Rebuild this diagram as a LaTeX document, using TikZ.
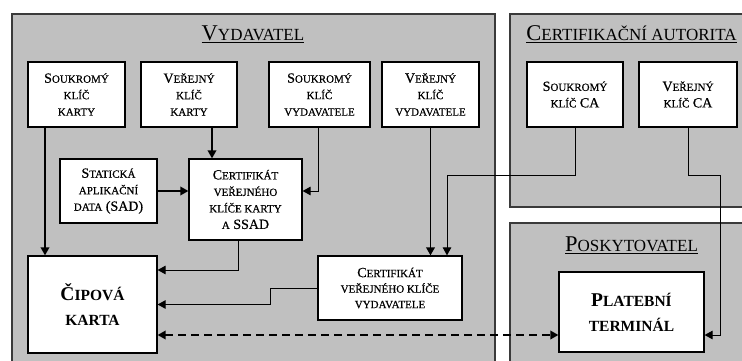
\documentclass[tikz,border=0pt]{standalone}
\usepackage{fontspec}
\setmainfont{Liberation Serif}
\newfontfamily\boxfont{Liberation Serif}[FakeBold=0.5]
\usetikzlibrary{arrows.meta}
\definecolor{panelgray}{HTML}{C0C0C0}
\definecolor{paneledge}{HTML}{3A3A3A}
\newcommand\sm[1]{{\fontsize{11}{16.5}\selectfont #1}}
\newcommand\bsm[1]{{\fontsize{15.5}{25}\selectfont #1}}
\newcommand\tsm[1]{{\fontsize{17}{20}\selectfont #1}}
\tikzset{
  panel/.style={draw=paneledge, line width=1.2pt, fill=panelgray},
  box/.style={draw=black, line width=1.2pt, fill=white, align=center, inner sep=0pt,
    font=\boxfont\fontsize{14}{16.5}\selectfont},
  bigbox/.style={box, font=\fontsize{19.5}{25}\selectfont\bfseries},
  ptitle/.style={inner sep=0pt, font=\fontsize{22.5}{24}\selectfont},
  tip/.style={-{Triangle[length=8pt,width=8.5pt]}},
  thickconn/.style={tip, line width=1.8pt},
  thinconn/.style={tip, line width=1pt},
  dashconn/.style={{Triangle[length=8pt,width=8.5pt]}-{Triangle[length=8pt,width=8.5pt]}, line width=1.8pt, dash pattern=on 8pt off 5pt}
}
\begin{document}
\begin{tikzpicture}[x=1pt,y=-1pt]
\clip (0,0) rectangle (742,361);
\fill[white] (0,0) rectangle (742,361);
% panels
\draw[panel] (12,14) rectangle (495,375);
\draw[panel] (510,14) rectangle (760,207);
\draw[panel] (510,223) rectangle (760,375);
% titles
\node[ptitle] (t1) at (253,34) {\underline{V\tsm{YDAVATEL}}};
\node[ptitle] (t2) at (631.5,34) {\underline{C\tsm{ERTIFIKAČNÍ AUTORITA}}};
\node[ptitle] (t3) at (631.5,245) {\underline{P\tsm{OSKYTOVATEL}}};
% boxes
\node[box, minimum width=97pt, minimum height=65pt] (b1) at (76.5,94.5) {S\sm{OUKROMÝ}\\\sm{KLÍČ}\\\sm{KARTY}};
\node[box, minimum width=96pt, minimum height=65pt] (b2) at (189,94.5) {V\sm{EŘEJNÝ}\\\sm{KLÍČ}\\\sm{KARTY}};
\node[box, minimum width=101pt, minimum height=65pt] (b3) at (319.5,94.5) {S\sm{OUKROMÝ}\\\sm{KLÍČ}\\\sm{VYDAVATELE}};
\node[box, minimum width=97pt, minimum height=65pt] (b4) at (430.5,94.5) {V\sm{EŘEJNÝ}\\\sm{KLÍČ}\\\sm{VYDAVATELE}};
\node[box, minimum width=96pt, minimum height=65pt] (b5) at (575,94.5) {S\sm{OUKROMÝ}\\\sm{KLÍČ} CA};
\node[box, minimum width=98pt, minimum height=65pt] (b6) at (688,94.5) {V\sm{EŘEJNÝ}\\\sm{KLÍČ} CA};
\node[box, minimum width=97pt, minimum height=64pt] (b7) at (108.5,191) {S\sm{TATICKÁ}\\\sm{APLIKAČNÍ}\\\sm{DATA} (SAD)};
\node[box, minimum width=113pt, minimum height=81pt] (b8) at (245.5,199.5) {C\sm{ERTIFIKÁT}\\\sm{VEŘEJNÉHO}\\\sm{KLÍČE KARTY}\\\sm{A} SSAD};
\node[bigbox, minimum width=129pt, minimum height=97pt] (b9) at (92.5,304.5) {Č\bsm{IPOVÁ}\\\bsm{KARTA}};
\node[box, minimum width=144pt, minimum height=64pt, font=\boxfont\fontsize{14}{15.5}\selectfont] (b10) at (390,288) {C\sm{ERTIFIKÁT}\\\sm{VEŘEJNÉHO KLÍČE}\\\sm{VYDAVATELE}};
\node[bigbox, minimum width=145pt, minimum height=80pt] (b11) at (631.5,312) {P\bsm{LATEBNÍ}\\\bsm{TERMINÁL}};
% guide coordinates
\coordinate (x1) at (45,0);
\coordinate (x2) at (212,0);
\coordinate (x3) at (318,0);
\coordinate (x4) at (238,0);
\coordinate (x5) at (270,0);
\coordinate (x6) at (447,0);
\coordinate (x7) at (720,0);
\coordinate (y1) at (0,270);
\coordinate (y2) at (0,175);
\coordinate (y3) at (0,335);
% connectors
\draw[thickconn] (b1.south -| x1) -- (b9.north -| x1);
\draw[thickconn] (b2.south -| x2) -- (b8.north -| x2);
\draw[thinconn] (b3.south -| x3) |- (b7.east -| b8.east);
\draw[thickconn] (b7.east) -- (b7.east -| b8.west);
\draw[thinconn] (b8.south -| x4) |- (b9.east |- y1);
\draw[thinconn] (b10.west) -- (b10.west -| x5) -- (b9.east -| x5) -- (b9.east);
\draw[thickconn] (b4.south) -- (b10.north -| b4.south);
\draw[thinconn] (b5.south) -- (b5.south |- y2) -- (x6 |- y2) -- (b10.north -| x6);
\draw[thinconn] (b6.south) -- (b6.south |- y2) -- (x7 |- y2) -- (x7 |- y3) -- (b11.east |- y3);
\draw[dashconn] (b9.east |- y3) -- (b11.west |- y3);
\end{tikzpicture}
\end{document}
